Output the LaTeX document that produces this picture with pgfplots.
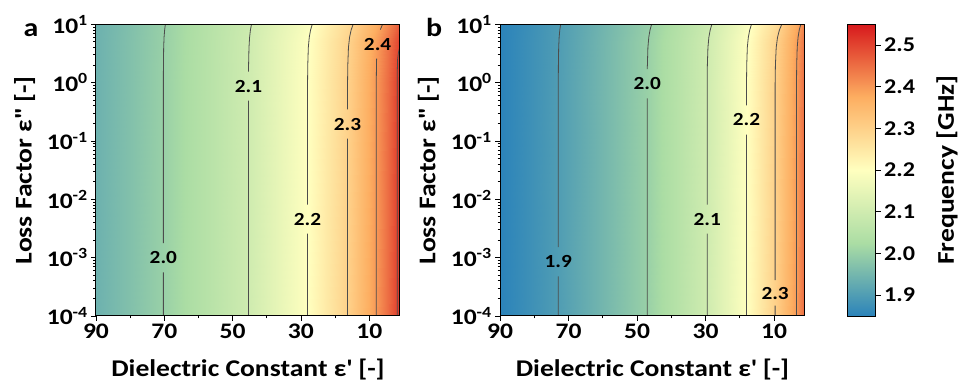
\documentclass[border=0pt]{standalone}
\usepackage{pgfplots}
\pgfplotsset{compat=1.18}
\usepackage{pgfplotstable}
\usepackage{fontspec}
\setmainfont{Carlito}[FakeStretch=1.15]
\definecolor{ctr}{gray}{0.3}
\pgfplotsset{colormap={spec5}{rgb255=(43,131,186) rgb255=(171,221,164) rgb255=(255,255,191) rgb255=(253,174,97) rgb255=(215,25,28)}}
\tikzset{
  ctrl/.style={draw=ctr, line width=0.8pt},
  clab/.style={font=\fontsize{18.5}{18.5}\selectfont\bfseries, text=black, inner sep=0pt, anchor=center},
}

% panel a: frequency [GHz] on a grid of dielectric constant e1 and loss factor e2
\pgfplotstableread{
e1 e2 f
1 1e-4 2.530
1.8 1e-4 2.500
4.5 1e-4 2.452
7.95 1e-4 2.400
12 1e-4 2.350
16.35 1e-4 2.300
22 1e-4 2.250
28.06 1e-4 2.200
36 1e-4 2.153
45.35 1e-4 2.100
57 1e-4 2.052
70.28 1e-4 2.000
80 1e-4 1.969
90 1e-4 1.940
1 1 2.530
1.8 1 2.500
4.5 1 2.452
7.95 1 2.400
12 1 2.350
16.35 1 2.300
22 1 2.250
28.06 1 2.200
36 1 2.153
45.35 1 2.100
57 1 2.052
70.28 1 2.000
80 1 1.969
90 1 1.940
1 5 2.518
1.8 5 2.490
4.5 5 2.444
7.95 5 2.393
12 5 2.344
16.35 5 2.295
22 5 2.246
28.06 5 2.197
36 5 2.151
45.35 5 2.099
57 5 2.051
70.28 5 1.999
80 5 1.969
90 5 1.940
1 10 2.480
1.8 10 2.460
4.5 10 2.418
7.95 10 2.371
12 10 2.326
16.35 10 2.281
22 10 2.235
28.06 10 2.188
36 10 2.145
45.35 10 2.095
57 10 2.049
70.28 10 1.998
80 10 1.967
90 10 1.939
}\dataA

% panel b
\pgfplotstableread{
e1 e2 f
1 1e-4 2.460
2 1e-4 2.435
3.47 1e-4 2.400
6.5 1e-4 2.351
9.71 1e-4 2.300
13.5 1e-4 2.253
18.06 1e-4 2.200
23.5 1e-4 2.151
29.54 1e-4 2.100
38 1e-4 2.050
47.04 1e-4 2.000
59 1e-4 1.953
72.99 1e-4 1.900
81 1e-4 1.876
90 1e-4 1.850
1 1 2.460
2 1 2.435
3.47 1 2.400
6.5 1 2.351
9.71 1 2.300
13.5 1 2.253
18.06 1 2.200
23.5 1 2.151
29.54 1 2.100
38 1 2.050
47.04 1 2.000
59 1 1.953
72.99 1 1.900
81 1 1.876
90 1 1.850
1 5 2.454
2 5 2.430
3.47 5 2.395
6.5 5 2.345
9.71 5 2.293
13.5 5 2.248
18.06 5 2.196
23.5 5 2.148
29.54 5 2.098
38 5 2.048
47.04 5 1.999
59 5 1.952
72.99 5 1.899
81 5 1.876
90 5 1.850
1 10 2.435
2 10 2.413
3.47 10 2.380
6.5 10 2.327
9.71 10 2.273
13.5 10 2.233
18.06 10 2.185
23.5 10 2.139
29.54 10 2.090
38 10 2.042
47.04 10 1.994
59 10 1.949
72.99 10 1.898
81 10 1.874
90 10 1.849
}\dataB

% colour scale (frequency values at the colormap knots)
\pgfplotstableread{
x f
0 1.85
1 1.85
0 2.025
1 2.025
0 2.2
1 2.2
0 2.375
1 2.375
0 2.55
1 2.55
}\dataC

\begin{document}
\begin{tikzpicture}
\useasboundingbox (0,0) rectangle (969pt,387pt);

% ---------------- panel a ----------------
\begin{axis}[width=304pt, at={(96pt,71pt)}, anchor=south west,
    scale only axis, height=291.7pt,
    ymode=log, xmin=1, xmax=90, x dir=reverse,
    ymin=1e-4, ymax=10,
    xtick={90,70,50,30,10}, xticklabels={90,70,50,30,10},
    minor xtick={80,60,40,20},
    ytick={1e-4,1e-3,1e-2,1e-1,1,10},
    yticklabels={10\textsuperscript{-4},10\textsuperscript{-3},10\textsuperscript{-2},10\textsuperscript{-1},10\textsuperscript{0},10\textsuperscript{1}},
    minor ytick={2e-4,3e-4,4e-4,5e-4,6e-4,7e-4,8e-4,9e-4,2e-3,3e-3,4e-3,5e-3,6e-3,7e-3,8e-3,9e-3,2e-2,3e-2,4e-2,5e-2,6e-2,7e-2,8e-2,9e-2,0.2,0.3,0.4,0.5,0.6,0.7,0.8,0.9,2,3,4,5,6,7,8,9},
    tick pos=left, tick align=outside,
    major tick length=4.7pt, minor tick length=2.5pt,
    every tick/.append style={black, line width=0.8pt},
    axis line style={line width=1pt},
    colormap name=spec5, point meta min=1.85, point meta max=2.55,
    ticklabel style={font=\fontsize{22.2}{22.2}\selectfont\bfseries},
    xlabel={Dielectric Constant ε\textquotesingle{} [-]},
    ylabel={Loss Factor ε\textquotesingle\textquotesingle{} [-]},
    xlabel style={font=\fontsize{24}{24}\selectfont\bfseries, at={(axis description cs:0.5,0)}, anchor=base, yshift=-60.7pt},
    ylabel style={font=\fontsize{24}{24}\selectfont\bfseries, at={(axis description cs:-0.235,0.5)}, anchor=center},
    unbounded coords=jump,
    axis on top]
\addplot[surf, shader=interp, mesh/cols=14, point meta=\thisrow{f}] table[x=e1, y=e2] {\dataA};
\addplot[ctrl] coordinates {(70.28,1e-4) (70.28,5.62e-4) (nan,nan) (70.28,1.78e-3) (70.28,1) (70.26,2) (70.19,4) (70.07,6) (69.90,8) (69.69,10)};
\addplot[ctrl] coordinates {(45.35,1e-4) (45.35,0.49) (nan,nan) (45.35,1.55) (45.33,2) (45.21,4) (45.03,6) (44.79,8) (44.47,10)};
\addplot[ctrl] coordinates {(28.06,1e-4) (28.06,2.57e-3) (nan,nan) (28.06,8.13e-3) (28.06,1) (28.00,2) (27.84,4) (27.56,6) (27.18,8) (26.68,10)};
\addplot[ctrl] coordinates {(16.35,1e-4) (16.35,0.11) (nan,nan) (16.35,0.347) (16.35,1) (16.28,2) (16.09,4) (15.76,6) (15.30,8) (14.71,10)};
\addplot[ctrl] coordinates {(7.95,1e-4) (7.95,1) (7.88,2) (7.84,2.57) (nan,nan) (6.76,8.1) (6.10,10)};
\addplot[ctrl] coordinates {(1.8,1e-4) (1.8,1.5) (1.7,2.5) (1.45,3.3) (1.0,4.2)};
\node[clab] at (axis cs:70.28,1e-3) {2.0};
\node[clab] at (axis cs:45.35,0.87) {2.1};
\node[clab] at (axis cs:28.06,4.57e-3) {2.2};
\node[clab] at (axis cs:16.35,0.195) {2.3};
\node[clab] at (axis cs:7.55,4.57) {2.4};
\end{axis}

% ---------------- panel b ----------------
\begin{axis}[width=305pt, at={(500pt,71pt)}, anchor=south west,
    scale only axis, height=291.7pt,
    ymode=log, xmin=1, xmax=90, x dir=reverse,
    ymin=1e-4, ymax=10,
    xtick={90,70,50,30,10}, xticklabels={90,70,50,30,10},
    minor xtick={80,60,40,20},
    ytick={1e-4,1e-3,1e-2,1e-1,1,10},
    yticklabels={10\textsuperscript{-4},10\textsuperscript{-3},10\textsuperscript{-2},10\textsuperscript{-1},10\textsuperscript{0},10\textsuperscript{1}},
    minor ytick={2e-4,3e-4,4e-4,5e-4,6e-4,7e-4,8e-4,9e-4,2e-3,3e-3,4e-3,5e-3,6e-3,7e-3,8e-3,9e-3,2e-2,3e-2,4e-2,5e-2,6e-2,7e-2,8e-2,9e-2,0.2,0.3,0.4,0.5,0.6,0.7,0.8,0.9,2,3,4,5,6,7,8,9},
    tick pos=left, tick align=outside,
    major tick length=4.7pt, minor tick length=2.5pt,
    every tick/.append style={black, line width=0.8pt},
    axis line style={line width=1pt},
    colormap name=spec5, point meta min=1.85, point meta max=2.55,
    ticklabel style={font=\fontsize{22.2}{22.2}\selectfont\bfseries},
    xlabel={Dielectric Constant ε\textquotesingle{} [-]},
    ylabel={Loss Factor ε\textquotesingle\textquotesingle{} [-]},
    xlabel style={font=\fontsize{24}{24}\selectfont\bfseries, at={(axis description cs:0.5,0)}, anchor=base, yshift=-60.7pt},
    ylabel style={font=\fontsize{24}{24}\selectfont\bfseries, at={(axis description cs:-0.235,0.5)}, anchor=center},
    unbounded coords=jump,
    axis on top]
\addplot[surf, shader=interp, mesh/cols=15, point meta=\thisrow{f}] table[x=e1, y=e2] {\dataB};
\addplot[ctrl] coordinates {(72.99,1e-4) (72.99,4.79e-4) (nan,nan) (72.99,1.51e-3) (72.99,1) (72.96,2) (72.88,4) (72.74,6) (72.55,8) (72.30,10)};
\addplot[ctrl] coordinates {(47.04,1e-4) (47.04,0.537) (nan,nan) (47.04,1.70) (46.99,2) (46.84,4) (46.58,6) (46.22,8) (45.76,10)};
\addplot[ctrl] coordinates {(29.54,1e-4) (29.54,2.57e-3) (nan,nan) (29.54,8.13e-3) (29.54,1) (29.49,2) (29.32,4) (29.05,6) (28.66,8) (28.17,10)};
\addplot[ctrl] coordinates {(18.06,1e-4) (18.06,0.129) (nan,nan) (18.06,0.407) (18.06,1) (18.00,2) (17.83,4) (17.53,6) (17.13,8) (16.60,10)};
\addplot[ctrl] coordinates {(9.71,1e-4) (9.71,1.51e-4) (nan,nan) (9.71,4.1e-4) (9.71,1) (9.63,2) (9.40,4) (9.01,6) (8.46,8) (7.76,10)};
\addplot[ctrl] coordinates {(3.47,1e-4) (3.47,1) (3.42,2) (3.27,4) (3.02,6) (2.67,8) (2.22,10)};
\node[clab] at (axis cs:72.99,8.5e-4) {1.9};
\node[clab] at (axis cs:47.04,0.955) {2.0};
\node[clab] at (axis cs:29.54,4.57e-3) {2.1};
\node[clab] at (axis cs:18.06,0.229) {2.2};
\node[clab] at (axis cs:9.71,2.4e-4) {2.3};
\end{axis}

% ---------------- colour bar ----------------
\begin{axis}[scale only axis, width=28pt, height=291.7pt, at={(847.7pt,71pt)}, anchor=south west,
  xmin=0, xmax=1, ymin=1.85, ymax=2.55, xtick=\empty,
  ytick={1.9,2.0,2.1,2.2,2.3,2.4,2.5},
  yticklabels={1.9,2.0,2.1,2.2,2.3,2.4,2.5},
  ytick pos=right, yticklabel pos=right, tick align=outside,
  major tick length=5pt,
  every tick/.append style={black, line width=0.8pt},
  axis line style={line width=0.8pt},
  yticklabel style={font=\fontsize{21}{21}\selectfont\bfseries},
  ylabel={Frequency [GHz]},
  ylabel style={font=\fontsize{24}{24}\selectfont\bfseries, at={(axis description cs:3.55,0.5)}, anchor=center},
  colormap name=spec5, point meta min=1.85, point meta max=2.55,
  axis on top]
\addplot[surf, shader=interp, mesh/cols=2, point meta=\thisrow{f}] table[x=x, y=f] {\dataC};
\end{axis}

\node[anchor=base west, font=\fontsize{26}{26}\selectfont\bfseries] at (20pt,350pt) {a};
\node[anchor=base west, font=\fontsize{26}{26}\selectfont\bfseries] at (422.7pt,350pt) {b};
\end{tikzpicture}
\end{document}
